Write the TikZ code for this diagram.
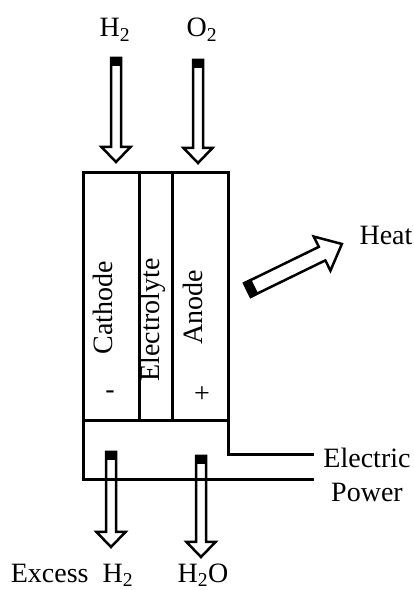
\documentclass[tikz,border=0pt]{standalone}
\usepackage{fontspec}
\setmainfont{Liberation Serif}
\tikzset{
  lbl/.style={inner sep=0pt, font=\fontsize{28}{34}\selectfont},
  cellline/.style={line width=3pt, line cap=rect},
  fatbody/.style={draw=black, fill=white, line width=2.5pt, line join=miter},
}
% start, angle, length, shaft half width, head half width, head length
\newcommand{\fatarrow}[6]{%
  \begin{scope}[shift={#1}, rotate=#2]
    \path[fatbody] (0,-#4) -- ({#3-#6},-#4) -- ({#3-#6},-#5) -- (#3,0) -- ({#3-#6},#5) -- ({#3-#6},#4) -- (0,#4) -- cycle;
    \fill[black] (-1.25,{-#4-1.25}) rectangle (8,{#4+1.25});
  \end{scope}}
\begin{document}
\begin{tikzpicture}[x=1pt,y=1pt]
\useasboundingbox (0,0) rectangle (414,590);
% labels
\node[lbl, anchor=base] (h2in) at (115,553) {H\textsubscript{2}};
\node[lbl, anchor=base] (o2in) at (202,553) {O\textsubscript{2}};
\node[lbl] (heat) at (386,355) {Heat};
\node[lbl, align=center] (power) at (367,115) {Electric\\Power};
\node[lbl, anchor=base] (exh2) at (72,8) {Excess\ \ H\textsubscript{2}};
\node[lbl, anchor=base] (h2o) at (203,8) {H\textsubscript{2}O};
% cell texts
\node[lbl, rotate=90] (cath) at (103,282) {Cathode};
\node[lbl, rotate=90] (elec) at (153,270) {Electrolyte};
\node[lbl, rotate=90] (anode) at (193,283) {Anode};
\node[lbl] (minus) at (110,195) {-};
\node[lbl] (plus) at (202,195) {+};
% arrows
\fatarrow{(116,532)}{-90}{104}{5}{14.5}{15}
\fatarrow{(198,530)}{-90}{103}{5}{14.5}{15}
\fatarrow{(111,138)}{-90}{95}{5}{14.5}{15}
\fatarrow{(201,134)}{-90}{101}{5}{14.5}{15}
\fatarrow{(247.5,300)}{26}{105}{7.5}{19}{22}
% cell
\draw[cellline] (83,417) rectangle (228,169);
\draw[cellline] (139,417) -- (139,169);
\draw[cellline] (172,417) -- (172,169);
\draw[cellline] (83,169) -- (83,110) -- (312,110);
\draw[cellline] (228,169) -- (228,135) -- (312,135);
\end{tikzpicture}
\end{document}
